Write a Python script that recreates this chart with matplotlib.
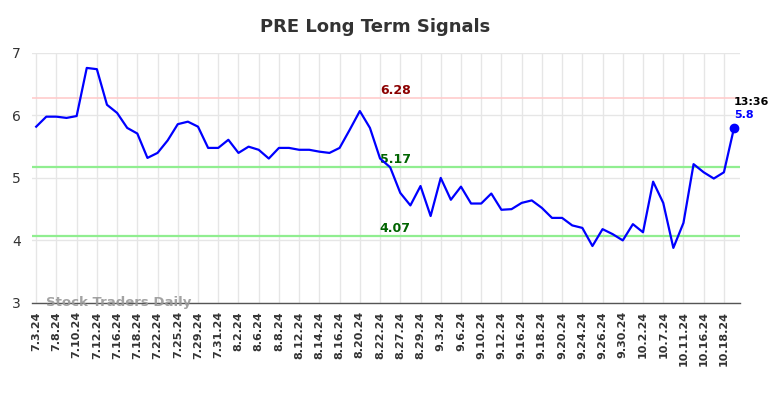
import numpy as np
import matplotlib
matplotlib.use('Agg')
import matplotlib.pyplot as plt

# tick labels (one every second point)
dates = ['7.3.24', '7.8.24', '7.10.24', '7.12.24', '7.16.24', '7.18.24', '7.22.24',
         '7.25.24', '7.29.24', '7.31.24', '8.2.24', '8.6.24', '8.8.24', '8.12.24',
         '8.14.24', '8.16.24', '8.20.24', '8.22.24', '8.27.24', '8.29.24', '9.3.24',
         '9.6.24', '9.10.24', '9.12.24', '9.16.24', '9.18.24', '9.20.24', '9.24.24',
         '9.26.24', '9.30.24', '10.2.24', '10.7.24', '10.11.24', '10.16.24', '10.18.24']

prices = [5.82, 5.98, 5.98, 5.96, 5.99, 6.76, 6.74, 6.17, 6.04, 5.80,
          5.71, 5.32, 5.40, 5.60, 5.86, 5.90, 5.82, 5.48, 5.48, 5.61,
          5.40, 5.50, 5.45, 5.31, 5.48, 5.48, 5.45, 5.45, 5.42, 5.40,
          5.48, 5.77, 6.07, 5.80, 5.31, 5.17, 4.76, 4.56, 4.87, 4.39,
          5.00, 4.65, 4.86, 4.59, 4.59, 4.75, 4.49, 4.50, 4.60, 4.64,
          4.52, 4.36, 4.36, 4.24, 4.20, 3.91, 4.18, 4.10, 4.00, 4.26,
          4.13, 4.94, 4.60, 3.88, 4.28, 5.22, 5.09, 4.99, 5.09, 5.80]

resistance = 6.28
support_hi = 5.17
support_lo = 4.07
last_time = '13:36'

fig = plt.figure(figsize=(7.84, 3.98), dpi=100)
ax = fig.add_axes([0.041, 0.239, 0.903, 0.628])

x = np.arange(len(prices))
ax.plot(x, prices, color='#0000ff', lw=1.6, zorder=5)
ax.plot(x[-1], prices[-1], 'o', color='#0000ff', ms=6, zorder=6)

ax.axhline(resistance, color='#ffcccc', lw=1.2, zorder=3)
ax.axhline(support_hi, color='#90ee90', lw=1.6, zorder=3)
ax.axhline(support_lo, color='#90ee90', lw=1.6, zorder=3)

mid = 35.5
ax.text(mid, resistance + 0.02, f'{resistance:.2f}', color='#8b0000', fontsize=9,
        fontweight='bold', ha='center', va='bottom')
ax.text(mid, support_hi + 0.02, f'{support_hi:.2f}', color='#006400', fontsize=9,
        fontweight='bold', ha='center', va='bottom')
ax.text(mid, support_lo + 0.02, f'{support_lo:.2f}', color='#006400', fontsize=9,
        fontweight='bold', ha='center', va='bottom')

ax.text(x[-1], prices[-1] + 0.12, f'{prices[-1]:.1f}', color='#0000ff', fontsize=8,
        fontweight='bold', ha='left', va='bottom')
ax.text(x[-1], prices[-1] + 0.33, last_time, color='black', fontsize=8,
        fontweight='bold', ha='left', va='bottom')

ax.text(1, 3.0, 'Stock Traders Daily', color='#999999', fontsize=9.5,
        fontweight='bold', ha='left', va='center', alpha=0.9, zorder=4)

ax.set_xlim(-0.4, len(prices) - 0.4)
ax.set_ylim(3, 7)
ax.set_yticks([3, 4, 5, 6, 7])
ax.set_xticks(x[::2])
ax.set_xticklabels(dates, rotation=90, fontsize=8, fontweight='bold')
ax.tick_params(axis='y', labelsize=10, colors='#333333', length=0, pad=8)
ax.tick_params(axis='x', length=0, pad=6, colors='#333333')

ax.grid(True, color='#e6e6e6', lw=1)
ax.set_axisbelow(True)
for s in ['top', 'right', 'left']:
    ax.spines[s].set_visible(False)
ax.spines['bottom'].set_color('#555555')
ax.spines['bottom'].set_linewidth(1)

fig.suptitle('PRE Long Term Signals', x=0.478, y=0.955, fontsize=13,
             fontweight='bold', color='#333333')

fig.savefig('out.png', dpi=100)
